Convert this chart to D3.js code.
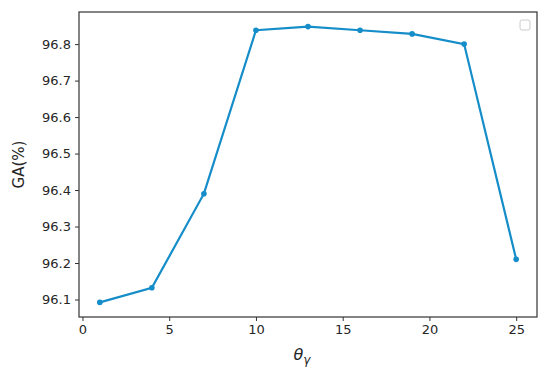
<!DOCTYPE html>
<html><head><meta charset="utf-8">
<script src="https://cdn.jsdelivr.net/npm/d3@7"></script>
<style>body{margin:0;background:#fff}svg{display:block}text{font-family:"DejaVu Sans",sans-serif;fill:#262626}</style>
</head><body><svg id="c" width="550" height="377"></svg>
<script>
const xValues = [1, 4, 7, 10, 13, 16, 19, 22, 25];
const gaValues = [96.092, 96.132, 96.39, 96.838, 96.848, 96.838, 96.828, 96.80, 96.21];
const xTicks = [0, 5, 10, 15, 20, 25];
const yTicks = [96.1, 96.2, 96.3, 96.4, 96.5, 96.6, 96.7, 96.8];

const svg = d3.select("#c");
const L = 79, T = 12, R = 537, B = 317;
const xs = d3.scaleLinear().domain([-0.2, 26.2]).range([L, R]);
const ys = d3.scaleLinear().domain([96.052, 96.888]).range([B, T]);

const gx = svg.append("g").attr("transform", `translate(0,${B})`)
  .call(d3.axisBottom(xs).tickValues(xTicks).tickFormat(d3.format("d")).tickSize(4).tickPadding(4));
const gy = svg.append("g").attr("transform", `translate(${L},0)`)
  .call(d3.axisLeft(ys).tickValues(yTicks).tickFormat(d3.format(".1f")).tickSize(4).tickPadding(4));
[gx, gy].forEach(g => {
  g.select(".domain").remove();
  g.selectAll("line").attr("stroke", "#333").attr("stroke-width", 1);
  g.selectAll("text").style("font-size", "13px").attr("fill", "#262626");
});
svg.append("rect").attr("x", L).attr("y", T).attr("width", R - L).attr("height", B - T)
  .attr("fill", "none").attr("stroke", "#333").attr("stroke-width", 1.2);

const data = xValues.map((x, i) => ({x, y: gaValues[i]}));
svg.append("path").datum(data)
  .attr("d", d3.line().x(d => xs(d.x)).y(d => ys(d.y)))
  .attr("fill", "none").attr("stroke", "#148dc8").attr("stroke-width", 2.2);
svg.selectAll("circle.pt").data(data).join("circle").attr("class", "pt")
  .attr("cx", d => xs(d.x)).attr("cy", d => ys(d.y)).attr("r", 2.8).attr("fill", "#148dc8");

// empty legend box
svg.append("rect").attr("x", 520).attr("y", 20).attr("width", 10).attr("height", 10).attr("rx", 2)
  .attr("fill", "#fff").attr("stroke", "#ccc").attr("stroke-width", 1);

svg.append("text").attr("transform", `translate(24,${(T + B) / 2}) rotate(-90)`)
  .attr("text-anchor", "middle").style("font-size", "15px").text("GA(%)");
const xl = svg.append("text").attr("x", (L + R) / 2 - 6).attr("y", 360).attr("text-anchor", "middle")
  .style("font-size", "16px").style("font-style", "italic");
xl.append("tspan").text("θ");
xl.append("tspan").attr("dy", 4).style("font-size", "12px").text("γ");
</script></body></html>
